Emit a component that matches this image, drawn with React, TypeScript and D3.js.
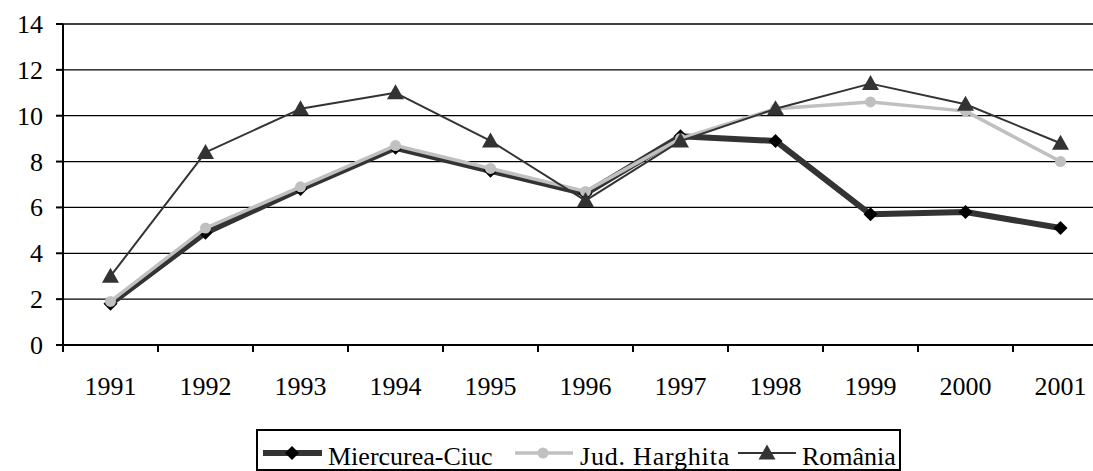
import React from "react";
import * as d3 from "d3";

const years = ["1991","1992","1993","1994","1995","1996","1997","1998","1999","2000","2001"];
const miercureaCiuc = [1.8, 4.9, 6.8, 8.6, 7.6, 6.6, 9.1, 8.9, 5.7, 5.8, 5.1];
const judHarghita = [1.9, 5.1, 6.9, 8.7, 7.7, 6.7, 9.0, 10.3, 10.6, 10.2, 8.0];
const romania = [3.0, 8.4, 10.3, 11.0, 8.9, 6.3, 8.9, 10.3, 11.4, 10.5, 8.8];
const yTicks = [0, 2, 4, 6, 8, 10, 12, 14];
const seriesNames = ["Miercurea-Ciuc", "Jud. Harghita", "România"];

const W = 1093;
const H = 471;
const FONT = "Liberation Serif";
const txt: React.CSSProperties = { fontFamily: FONT, fontSize: "26px" };

export default function App() {
  const x = d3.scaleBand<string>().domain(years).range([63, 1108]).padding(0);
  const y = d3.scaleLinear().domain([0, 14]).range([345, 24]);
  const cx = (yr: string) => (x(yr) as number) + x.bandwidth() / 2;

  const line = d3
    .line<number>()
    .x((_, i) => cx(years[i]))
    .y((v) => y(v));

  const diamond = (px: number, py: number, r: number) =>
    `M${px},${py - r}L${px + r},${py}L${px},${py + r}L${px - r},${py}Z`;
  const triangle = (px: number, py: number) =>
    `M${px},${py - 8.5}L${px + 8.5},${py + 6.5}L${px - 8.5},${py + 6.5}Z`;

  const legendY = 453;

  return (
    <svg
      width={W}
      height={H}
      style={{ position: "absolute", left: 0, top: 0, background: "#fff" }}
    >
      <rect x={0} y={0} width={W} height={H} fill="#fff" />
      {yTicks.filter((t) => t > 0).map((t) => (
        <line key={t} x1={63} x2={1108} y1={y(t)} y2={y(t)} stroke="#000" strokeWidth={1.3} />
      ))}
      <line x1={63} x2={63} y1={y(14)} y2={y(0)} stroke="#000" strokeWidth={2} />
      {yTicks.map((t) => (
        <g key={t}>
          <line x1={56} x2={63} y1={y(t)} y2={y(t)} stroke="#000" strokeWidth={2} />
          <text x={43} y={y(t) + 9} textAnchor="end" style={txt} fill="#000">
            {t}
          </text>
        </g>
      ))}
      <line x1={63} x2={1108} y1={y(0)} y2={y(0)} stroke="#000" strokeWidth={2} />
      {years.map((yr) => (
        <g key={yr}>
          <line x1={x(yr) as number} x2={x(yr) as number} y1={y(0)} y2={y(0) + 7} stroke="#000" strokeWidth={2} />
          <text x={cx(yr)} y={395} textAnchor="middle" style={txt} fill="#000">
            {yr}
          </text>
        </g>
      ))}

      <path d={line(miercureaCiuc) || ""} fill="none" stroke="#333" strokeWidth={6} strokeLinejoin="round" />
      {miercureaCiuc.map((v, i) => (
        <path key={i} d={diamond(cx(years[i]), y(v), 7)} fill="#000" />
      ))}

      <path d={line(judHarghita) || ""} fill="none" stroke="#c0c0c0" strokeWidth={3.5} strokeLinejoin="round" />
      {judHarghita.map((v, i) => (
        <circle key={i} cx={cx(years[i])} cy={y(v)} r={5.5} fill="#c0c0c0" />
      ))}

      <path d={line(romania) || ""} fill="none" stroke="#333" strokeWidth={2} strokeLinejoin="round" />
      {romania.map((v, i) => (
        <path key={i} d={triangle(cx(years[i]), y(v))} fill="#333" />
      ))}

      <rect x={257} y={430} width={643} height={40} fill="#fff" stroke="#000" strokeWidth={2} />
      <line x1={263} x2={322} y1={legendY} y2={legendY} stroke="#333" strokeWidth={6} />
      <path d={diamond(292, legendY, 7)} fill="#000" />
      <text x={328} y={465} style={txt} fill="#000">{seriesNames[0]}</text>

      <line x1={515} x2={573} y1={legendY} y2={legendY} stroke="#c0c0c0" strokeWidth={3.5} />
      <circle cx={543} cy={legendY} r={5.5} fill="#c0c0c0" />
      <text x={580} y={465} style={txt} fill="#000" letterSpacing={0.8}>{seriesNames[1]}</text>

      <line x1={738} x2={796} y1={legendY} y2={legendY} stroke="#333" strokeWidth={2} />
      <path d={triangle(767, legendY)} fill="#333" />
      <text x={802} y={465} style={txt} fill="#000">{seriesNames[2]}</text>
    </svg>
  );
}
